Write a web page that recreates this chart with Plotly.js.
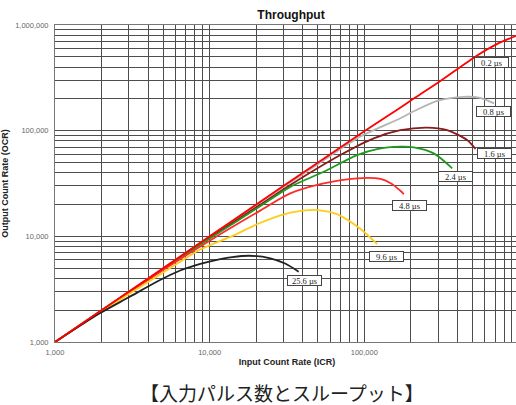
<!DOCTYPE html>
<html>
<head>
<meta charset="utf-8">
<script src="https://cdn.plot.ly/plotly-3.0.1.min.js"></script>
<style>
html,body{margin:0;padding:0;overflow:hidden;background:#fff;}
#chart{width:519px;height:405px;}
</style>
</head>
<body>
<div id="chart"></div>
<script>
// ---- data ----
const seriesNames = ["0.2 µs", "0.8 µs", "1.6 µs", "2.4 µs", "4.8 µs", "9.6 µs", "25.6 µs"];

const icr02 = [1000, 2000, 5000, 10000, 20000, 50000, 100000, 163000, 200000, 300000, 536000, 720000, 1000000];
const ocr02 = [1000, 2000, 5000, 10000, 20000, 49800, 99000, 158000, 193000, 285000, 515000, 660000, 810000];

const icr08 = [1000, 2000, 5000, 10000, 20000, 50000, 89700, 171000, 204000, 303000, 440000, 560000, 690000];
const ocr08 = [1000, 2000, 4990, 9950, 19800, 48000, 84600, 131000, 150000, 193000, 209000, 204000, 181000];

const icr16 = [1000, 2000, 5000, 10000, 20000, 33200, 70000, 115000, 171000, 255000, 343000, 462000, 523000];
const ocr16 = [1000, 1990, 4900, 9700, 18800, 30600, 58800, 84600, 101000, 107000, 101000, 81500, 67000];

const icr24 = [1000, 2000, 5000, 10000, 20000, 33200, 54600, 89700, 121000, 171000, 209000, 281000, 370000];
const ocr24 = [1000, 1990, 4850, 9550, 18200, 29400, 40800, 58800, 67000, 70500, 69500, 61000, 44000];

const icr48 = [1000, 2000, 5000, 10000, 21200, 33200, 54600, 89700, 127000, 150000, 171000, 180000];
const ocr48 = [1000, 1980, 4800, 9100, 17500, 25500, 31700, 35400, 34900, 31500, 27000, 25100];

const icr96 = [1000, 2000, 4000, 6440, 8700, 14300, 20200, 28600, 40000, 50000, 66500, 94000, 121000];
const ocr96 = [1000, 1950, 3700, 5750, 7500, 10200, 13000, 15800, 17500, 17700, 16200, 11800, 8450];

const icr256 = [1000, 1950, 3000, 4780, 6440, 8700, 10600, 14000, 18000, 24700, 31000, 37600];
const ocr256 = [1000, 1870, 2650, 3860, 4750, 5500, 5900, 6350, 6550, 6200, 5500, 4630];

const xTickVals = [1000, 10000, 100000, 1000000];
const xTickText = ["1,000", "10,000", "100,000", "1,000,000"];
const yTickVals = [1000, 10000, 100000, 1000000];
const yTickText = ["1,000", "10,000", "100,000", "1,000,000"];

const chartTitle = "Throughput";
const xTitle = "Input Count Rate (ICR)";
const yTitle = "Output Count Rate (OCR)";
const caption = "【入力パルス数とスループット】";

// ---- styling ----
const colors = ["#ff0000", "#b4b4b4", "#8b1a1a", "#1f9a1f", "#ff2a2a", "#ffcc1a", "#222222"];
const xs = [icr02, icr08, icr16, icr24, icr48, icr96, icr256];
const ys = [ocr02, ocr08, ocr16, ocr24, ocr48, ocr96, ocr256];

// gridline positions (1..9 x each decade)
function logGrid(lo, hi) {
  const v = [];
  for (let d = lo; d < hi; d++) for (let m = 1; m < 10; m++) v.push(m * Math.pow(10, d));
  v.push(Math.pow(10, hi));
  return v;
}
function gridText(vals, major, labels) {
  return vals.map(v => { const i = major.indexOf(v); return i >= 0 ? labels[i] : ""; });
}
const xGrid = logGrid(3, 6), yGrid = logGrid(3, 6);

const traces = xs.map((x, i) => ({
  x: x, y: ys[i], type: "scatter", mode: "lines", name: seriesNames[i],
  line: {color: colors[i], width: 1.8, shape: "spline", smoothing: 0.8},
  hoverinfo: "skip"
}));
// draw the 0.2 µs on top
traces.push(traces.shift());

// label boxes (paper positions)
const L = 55, R = 519, T = 25, B = 342;
const px = x => (x - L) / (R - L), py = y => (B - y) / (B - T);
const labelPos = [[491, 62], [493, 111], [494.5, 153.3], [455, 176.5], [409, 205], [386.7, 256.7], [304, 280]];

const annotations = seriesNames.map((t, i) => ({
  text: t, xref: "paper", yref: "paper", x: px(labelPos[i][0]), y: py(labelPos[i][1]),
  xanchor: "center", yanchor: "middle", showarrow: false,
  font: {family: "Liberation Serif, Times New Roman, serif", size: 8.5, color: "#222"},
  bgcolor: "#ffffff", bordercolor: "#444", borderwidth: 1, borderpad: 0,
  width: 33, height: 9
}));
annotations.push({
  text: caption, xref: "paper", yref: "paper", x: px(282), y: py(393),
  xanchor: "center", yanchor: "middle", showarrow: false,
  font: {family: "Noto Sans CJK JP, sans-serif", size: 19, color: "#222"}
});

const layout = {
  width: 519, height: 405,
  margin: {l: L, r: 0, t: T, b: 405 - B},
  paper_bgcolor: "#ffffff", plot_bgcolor: "#ffffff",
  showlegend: false,
  title: {text: "<b>" + chartTitle + "</b>", x: px(291), xref: "paper", y: 1 - 15 / 405, yanchor: "middle",
    font: {family: "Liberation Sans, Arial, sans-serif", size: 12, color: "#111"}},
  xaxis: {
    type: "log", range: [3, 6], autorange: false,
    tickvals: xGrid, ticktext: gridText(xGrid, xTickVals, xTickText),
    ticks: "", ticklabelstandoff: 3,
    tickfont: {family: "Liberation Sans, Arial, sans-serif", size: 7.5, color: "#666"},
    showgrid: true, gridcolor: "#4d4d4d", gridwidth: 1,
    showline: true, linecolor: "#777", linewidth: 1, mirror: true, zeroline: false,
    title: {text: "<b>" + xTitle + "</b>", standoff: 2,
      font: {family: "Liberation Sans, Arial, sans-serif", size: 9, color: "#222"}}
  },
  yaxis: {
    type: "log", range: [3, 6], autorange: false,
    tickvals: yGrid, ticktext: gridText(yGrid, yTickVals, yTickText),
    ticks: "", ticklabelstandoff: 4,
    tickfont: {family: "Liberation Sans, Arial, sans-serif", size: 7.5, color: "#666"},
    showgrid: true, gridcolor: "#4d4d4d", gridwidth: 1,
    showline: true, linecolor: "#777", linewidth: 1, mirror: true, zeroline: false,
    title: {text: "<b>" + yTitle + "</b>", standoff: 4,
      font: {family: "Liberation Sans, Arial, sans-serif", size: 9, color: "#222"}}
  },
  annotations: annotations
};

Plotly.newPlot("chart", traces, layout, {staticPlot: true, displayModeBar: false});
</script>
</body>
</html>
